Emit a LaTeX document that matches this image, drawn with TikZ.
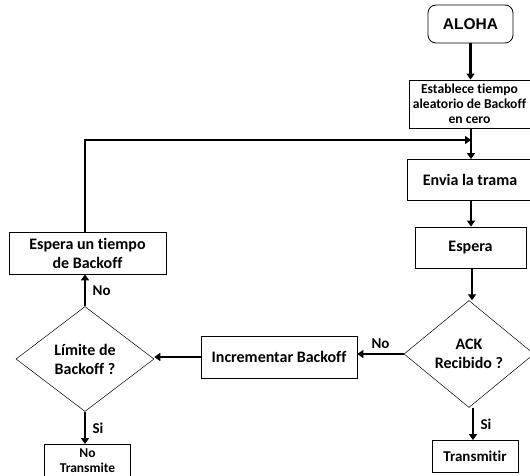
\documentclass[tikz,border=0pt]{standalone}
\usepackage{fontspec}
\setmainfont{Carlito}[Ligatures={NoCommon}]
\newfontfamily\headfont{Liberation Sans}
\usetikzlibrary{shapes.geometric,arrows.meta}
\begin{document}
\begin{tikzpicture}[x=1pt,y=-1pt,
  font=\bfseries\fontsize{16}{19}\selectfont,
  box/.style={draw,line width=0.8pt,inner sep=0pt,align=center},
  decision/.style={diamond,draw,line width=0.5pt,inner sep=0pt,align=center},
  flow/.style={line width=2.6pt,-{Triangle[width=8pt,length=6pt]}},
  lbl/.style={font=\bfseries\fontsize{15}{18}\selectfont}]
\useasboundingbox (0,0) rectangle (530,476);
\clip (0,0) rectangle (530,476);
% process steps
\node[box,rounded corners=8pt,minimum width=85pt,minimum height=38pt,
      font=\headfont\bfseries\fontsize{15.5}{18}\selectfont] (aloha) at (470.5,24) {ALOHA};
\node[box,minimum width=128pt,minimum height=48pt,
      font=\bfseries\fontsize{13.6}{15}\selectfont] (reset) at (473,104) {};
\node[align=center,inner sep=0pt,font=\bfseries\fontsize{13.6}{15}\selectfont]
      (resettext) at (469.5,104) {Establece tiempo\\aleatorio de Backoff\\en cero};
\coordinate (join) at (471,140);
\node[box,minimum width=126pt,minimum height=41pt] (send) at (470,180) {Envia la trama};
\node[box,minimum width=111pt,minimum height=41pt] (wait) at (470.5,247.5) {Espera};
\node[decision,minimum width=130pt,minimum height=107pt] (ack) at (469,354) {ACK\\Recibido ?};
\node[box,minimum width=156pt,minimum height=42pt] (inc) at (279,357) {Incrementar Backoff};
\node[decision,minimum width=138pt,minimum height=105pt] (limit) at (85,359) {Límite de\\Backoff ?};
\node[box,minimum width=157pt,minimum height=42pt] (backoff) at (87.5,253) {Espera un tiempo\\de Backoff};
\node[box,anchor=north,minimum width=86pt,inner ysep=4.5pt,
      font=\bfseries\fontsize{13.5}{14.5}\selectfont] (notx) at (87.5,444) {No\\Transmite\\[3pt]};
\node[box,minimum width=86pt,minimum height=32pt,
      font=\bfseries\fontsize{15}{18}\selectfont] (tx) at (475,456.5) {Transmitir};
% connectors
\draw[flow] (aloha.south) -- (reset.north -| aloha.south);
\draw[line width=2.6pt] (reset.south -| join) -- (join);
\draw[flow] (join) -- (send.north -| join);
\draw[flow] (send.south) ++(1pt,0) coordinate (s1) -- (s1 |- wait.north);
\draw[flow] (wait.south) ++(1.5pt,0) coordinate (w1) -- (w1 |- ack.north);
\draw[flow] (ack.west) -- (inc.east |- ack.west) node[lbl,midway,above=1pt] {No};
\draw[flow] (inc.west) -- (limit.east |- inc.west);
\draw[flow] (limit.north) -- (backoff.south -| limit.north) node[lbl,midway,right=3pt] {No};
\draw[flow] (limit.south) -- (notx.north -| limit.south) node[lbl,midway,right=3pt] {Si};
\draw[flow] (ack.south) ++(4pt,0) coordinate (a1) -- (a1 |- tx.north) node[lbl,midway,right=3pt] {Si};
\draw[flow] (backoff.north -| limit.north) -- (limit.north |- join) -- (join);
\end{tikzpicture}
\end{document}
